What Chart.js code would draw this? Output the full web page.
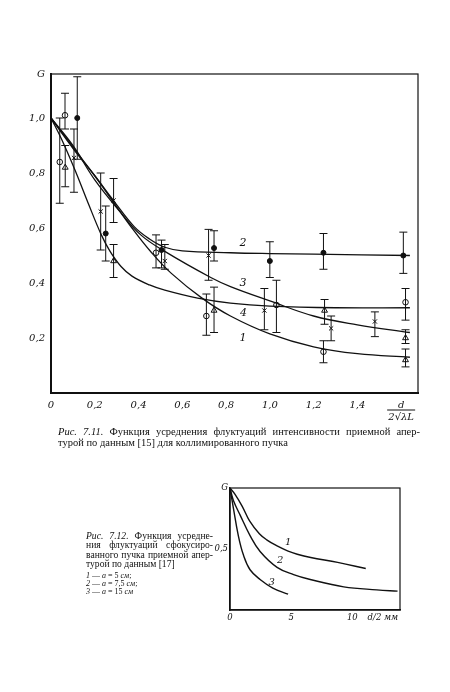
<!DOCTYPE html>
<html lang="ru">
<head>
<meta charset="UTF-8" />
<title>Рис. 7.11 и 7.12</title>
<style>
  body { margin:0; width:450px; height:692px; background:#fff; position:relative; overflow:hidden;
         font-family:"Liberation Serif", "DejaVu Serif", serif; color:#111; }
  canvas { position:absolute; }
  #c1 { left:0; top:0; }
  #c2 { left:195px; top:470px; }
  .cap { position:absolute; font-size:10.5px; line-height:11px; }
  .just { text-align:justify; text-align-last:justify; }
  #cap1 { left:58px; top:426px; width:362px; }
  #cap2 { left:86px; top:531px; width:127px; font-size:9.6px; line-height:9.4px; }
  #leg2 { left:86px; top:572px; font-size:8px; line-height:8.2px; }
</style>
</head>
<body>
<canvas id="c1" width="450" height="430"></canvas>
<canvas id="c2" width="255" height="160"></canvas>

<div class="cap" id="cap1">
  <div class="just"><i>Рис. 7.11.</i> Функция усреднения флуктуаций интенсивности приемной апер-</div>
  <div>турой по данным [15] для коллимированного пучка</div>
</div>
<div class="cap" id="cap2">
  <div class="just"><i>Рис. 7.12.</i> Функция усредне-</div>
  <div class="just">ния флуктуаций сфокусиро-</div>
  <div class="just">ванного пучка приемной апер-</div>
  <div>турой по данным [17]</div>
</div>
<div class="cap" id="leg2">
  <div><i>1</i> — <i>a</i> = 5 <i>см</i>;</div>
  <div><i>2</i> — <i>a</i> = 7,5 <i>см</i>;</div>
  <div><i>3</i> — <i>a</i> = 15 <i>см</i></div>
</div>

<script src="https://cdn.jsdelivr.net/npm/chart.js"></script>
<script>
// --- Fig 7.11 : fitted curves ---
const c1X1 = [0, 0.1, 0.2, 0.28, 0.37, 0.46, 0.55, 0.69, 0.82, 1.0, 1.2, 1.4, 1.64];
const c1Y1 = [1.0, 0.89, 0.79, 0.70, 0.60, 0.51, 0.435, 0.345, 0.28, 0.215, 0.168, 0.143, 0.13];
const c1X2 = [0, 0.1, 0.2, 0.29, 0.38, 0.45, 0.52, 0.6, 0.82, 1.0, 1.2, 1.64];
const c1Y2 = [1.0, 0.895, 0.79, 0.695, 0.605, 0.56, 0.53, 0.517, 0.51, 0.507, 0.505, 0.50];
const c1X3 = [0, 0.1, 0.2, 0.32, 0.41, 0.52, 0.73, 0.82, 1.0, 1.2, 1.4, 1.64];
const c1Y3 = [1.0, 0.9, 0.775, 0.655, 0.575, 0.515, 0.42, 0.387, 0.335, 0.28, 0.248, 0.22];
const c1X4 = [0, 0.05, 0.11, 0.17, 0.23, 0.27, 0.32, 0.37, 0.45, 0.52, 0.67, 0.82, 1.0, 1.3, 1.64];
const c1Y4 = [1.0, 0.92, 0.81, 0.69, 0.575, 0.515, 0.46, 0.425, 0.393, 0.374, 0.345, 0.327, 0.316, 0.31, 0.31];

// curve numbers
const c1LabX = [0.877, 0.877, 0.877, 0.88];
const c1LabY = [0.20, 0.545, 0.40, 0.29];
const c1LabTxt = ['1', '2', '3', '4'];

// --- Fig 7.11 : measured points with error bars ---
const dotX  = [0.12, 0.25, 0.505, 0.745, 1.0, 1.245, 1.61];
const dotY  = [1.0, 0.58, 0.52, 0.527, 0.48, 0.51, 0.50];
const dotLo = [0.85, 0.48, 0.455, 0.48, 0.42, 0.45, 0.435];
const dotHi = [1.15, 0.68, 0.556, 0.59, 0.55, 0.58, 0.585];

const circX  = [0.064, 0.04, 0.48, 0.71, 1.03, 1.245, 1.62];
const circY  = [1.01, 0.84, 0.51, 0.28, 0.32, 0.15, 0.33];
const circLo = [0.96, 0.69, 0.455, 0.21, 0.22, 0.11, 0.265];
const circHi = [1.09, 1.0, 0.575, 0.36, 0.41, 0.19, 0.38];

const crossX  = [0.105, 0.227, 0.286, 0.52, 0.72, 0.975, 1.28, 1.48];
const crossY  = [0.855, 0.66, 0.70, 0.48, 0.50, 0.30, 0.235, 0.26];
const crossLo = [0.73, 0.52, 0.62, 0.45, 0.41, 0.23, 0.19, 0.205];
const crossHi = [0.96, 0.80, 0.78, 0.54, 0.595, 0.38, 0.28, 0.295];

const triX  = [0.065, 0.286, 0.745, 1.25, 1.62, 1.62];
const triY  = [0.82, 0.48, 0.30, 0.30, 0.20, 0.12];
const triLo = [0.75, 0.42, 0.22, 0.25, 0.18, 0.095];
const triHi = [0.90, 0.54, 0.385, 0.34, 0.23, 0.16];

const c1XTicks = [0, 0.2, 0.4, 0.6, 0.8, 1.0, 1.2, 1.4, 1.6];
const c1XLabels = ['0', '0,2', '0,4', '0,6', '0,8', '1,0', '1,2', '1,4', ['d', '2√λL']];
const c1YTicks = [0.2, 0.4, 0.6, 0.8, 1.0, 1.16];
const c1YLabels = ['0,2', '0,4', '0,6', '0,8', '1,0', 'G'];

// --- Fig 7.12 ---
const c2X1 = [0, 0.4, 1.0, 1.6, 2.4, 3.0, 3.85, 4.7, 5.5, 6.6, 8.8, 11.1];
const c2Y1 = [1.0, 0.95, 0.85, 0.73, 0.625, 0.575, 0.525, 0.485, 0.457, 0.43, 0.39, 0.34];
const c2X2 = [0, 0.27, 0.82, 1.64, 2.46, 3.85, 5.2, 6.56, 9.3, 12.0, 13.7];
const c2Y2 = [1.0, 0.90, 0.78, 0.61, 0.48, 0.35, 0.29, 0.25, 0.19, 0.165, 0.155];
const c2X3 = [0, 0.27, 0.68, 1.1, 1.64, 2.46, 3.5, 4.75];
const c2Y3 = [1.0, 0.84, 0.61, 0.45, 0.33, 0.25, 0.18, 0.13];

const c2LabX = [4.75, 4.1, 3.4];
const c2LabY = [0.55, 0.41, 0.23];
const c2LabTxt = ['1', '2', '3'];

const c2XTicks = [0, 5, 10, 12.5];
const c2XLabels = ['0', '5', '10', 'd/2 мм'];
const c2YTicks = [0.5, 1.0];
const c2YLabels = ['0,5', 'G'];

Chart.defaults.font.family = '"DejaVu Serif", serif';
Chart.defaults.font.style = 'italic';
Chart.defaults.color = '#111';

const pts = (xs, ys) => xs.map((x, i) => ({ x: x, y: ys[i] }));

function curve(xs, ys, w) {
  return { data: pts(xs, ys), showLine: true, pointRadius: 0, borderColor: '#111',
           borderWidth: w, tension: 0.4, fill: false };
}

// error bars, curve numbers, frame
const extras = {
  id: 'extras',
  afterDatasetsDraw(chart) {
    const { ctx, chartArea: a, scales: { x, y } } = chart;
    ctx.save();
    ctx.strokeStyle = '#111';
    ctx.lineWidth = 1;
    chart.data.datasets.forEach(ds => {
      if (!ds.lo) return;
      ds.data.forEach((p, i) => {
        const px = x.getPixelForValue(p.x);
        const y1 = y.getPixelForValue(ds.lo[i]), y2 = y.getPixelForValue(ds.hi[i]);
        ctx.beginPath();
        ctx.moveTo(px, y1); ctx.lineTo(px, y2);
        ctx.moveTo(px - 4, y1); ctx.lineTo(px + 4, y1);
        ctx.moveTo(px - 4, y2); ctx.lineTo(px + 4, y2);
        ctx.stroke();
      });
    });
    const lab = chart.options.curveLabels;
    if (lab) {
      ctx.fillStyle = '#111';
      ctx.font = 'italic ' + lab.size + 'px "DejaVu Serif", serif';
      ctx.textAlign = 'center'; ctx.textBaseline = 'middle';
      lab.x.forEach((v, i) => ctx.fillText(lab.t[i], x.getPixelForValue(v), y.getPixelForValue(lab.y[i])));
    }
    // fraction bar of the axis title
    const fr = chart.options.fracAt;
    if (fr) {
      const fx = x.getPixelForValue(fr);
      ctx.beginPath();
      ctx.moveTo(fx - 14, a.bottom + 17); ctx.lineTo(fx + 14, a.bottom + 17);
      ctx.stroke();
    }
    // frame of the plot
    ctx.lineWidth = 1.2;
    ctx.strokeRect(a.left, a.top, a.right - a.left, a.bottom - a.top);
    ctx.restore();
  }
};

function axes(o) {
  return {
    x: { type: 'linear', min: 0, max: o.xmax, grid: { display: false, drawTicks: false },
         border: { color: '#111', width: o.bw },
         afterFit: s => { s.height = o.xh; },
         afterBuildTicks: s => { s.ticks = o.xt.map(v => ({ value: v })); },
         ticks: { autoSkip: false, maxRotation: 0, padding: o.xpad, font: { size: o.fs },
                  callback: (v, i) => o.xl[i] } },
    y: { min: 0, max: o.ymax, grid: { display: false, drawTicks: false },
         border: { color: '#111', width: o.bw },
         afterFit: s => { s.width = o.yw; },
         afterBuildTicks: s => { s.ticks = o.yt.map(v => ({ value: v })); },
         ticks: { autoSkip: false, padding: o.ypad, font: { size: o.fs },
                  callback: (v, i) => o.yl[i] } }
  };
}

function marks(xs, ys, lo, hi, style, r, fill) {
  return { data: pts(xs, ys), lo: lo, hi: hi, pointStyle: style, pointRadius: r,
           backgroundColor: fill, borderColor: '#111', borderWidth: 1 };
}

new Chart(document.getElementById('c1'), {
  type: 'scatter',
  data: { datasets: [
    curve(c1X1, c1Y1, 1.3), curve(c1X2, c1Y2, 1.3), curve(c1X3, c1Y3, 1.3), curve(c1X4, c1Y4, 1.3),
    marks(dotX, dotY, dotLo, dotHi, 'circle', 2.5, '#111'),
    marks(circX, circY, circLo, circHi, 'circle', 2.8, '#fff'),
    marks(crossX, crossY, crossLo, crossHi, 'crossRot', 3, '#111'),
    marks(triX, triY, triLo, triHi, 'triangle', 3.4, '#fff')
  ] },
  options: {
    responsive: false, animation: false, devicePixelRatio: 1,
    layout: { padding: { top: 74, right: 32, left: 0, bottom: 0 } },
    plugins: { legend: { display: false }, tooltip: { enabled: false } },
    curveLabels: { x: c1LabX, y: c1LabY, t: c1LabTxt, size: 11 },
    fracAt: 1.6,
    scales: axes({ xmax: 1.677, ymax: 1.16, xt: c1XTicks, xl: c1XLabels, yt: c1YTicks, yl: c1YLabels,
                   xh: 37, yw: 51, fs: 10, xpad: 6, ypad: 6, bw: 2 })
  },
  plugins: [extras]
});

new Chart(document.getElementById('c2'), {
  type: 'scatter',
  data: { datasets: [ curve(c2X1, c2Y1, 1.4), curve(c2X2, c2Y2, 1.4), curve(c2X3, c2Y3, 1.4) ] },
  options: {
    responsive: false, animation: false, devicePixelRatio: 1,
    layout: { padding: { top: 18, right: 50, left: 0, bottom: 0 } },
    plugins: { legend: { display: false }, tooltip: { enabled: false } },
    curveLabels: { x: c2LabX, y: c2LabY, t: c2LabTxt, size: 10 },
    scales: axes({ xmax: 13.9, ymax: 1.0, xt: c2XTicks, xl: c2XLabels, yt: c2YTicks, yl: c2YLabels,
                   xh: 20, yw: 35, fs: 8.5, xpad: 3, ypad: 2, bw: 1.5 })
  },
  plugins: [extras]
});
</script>
</body>
</html>
